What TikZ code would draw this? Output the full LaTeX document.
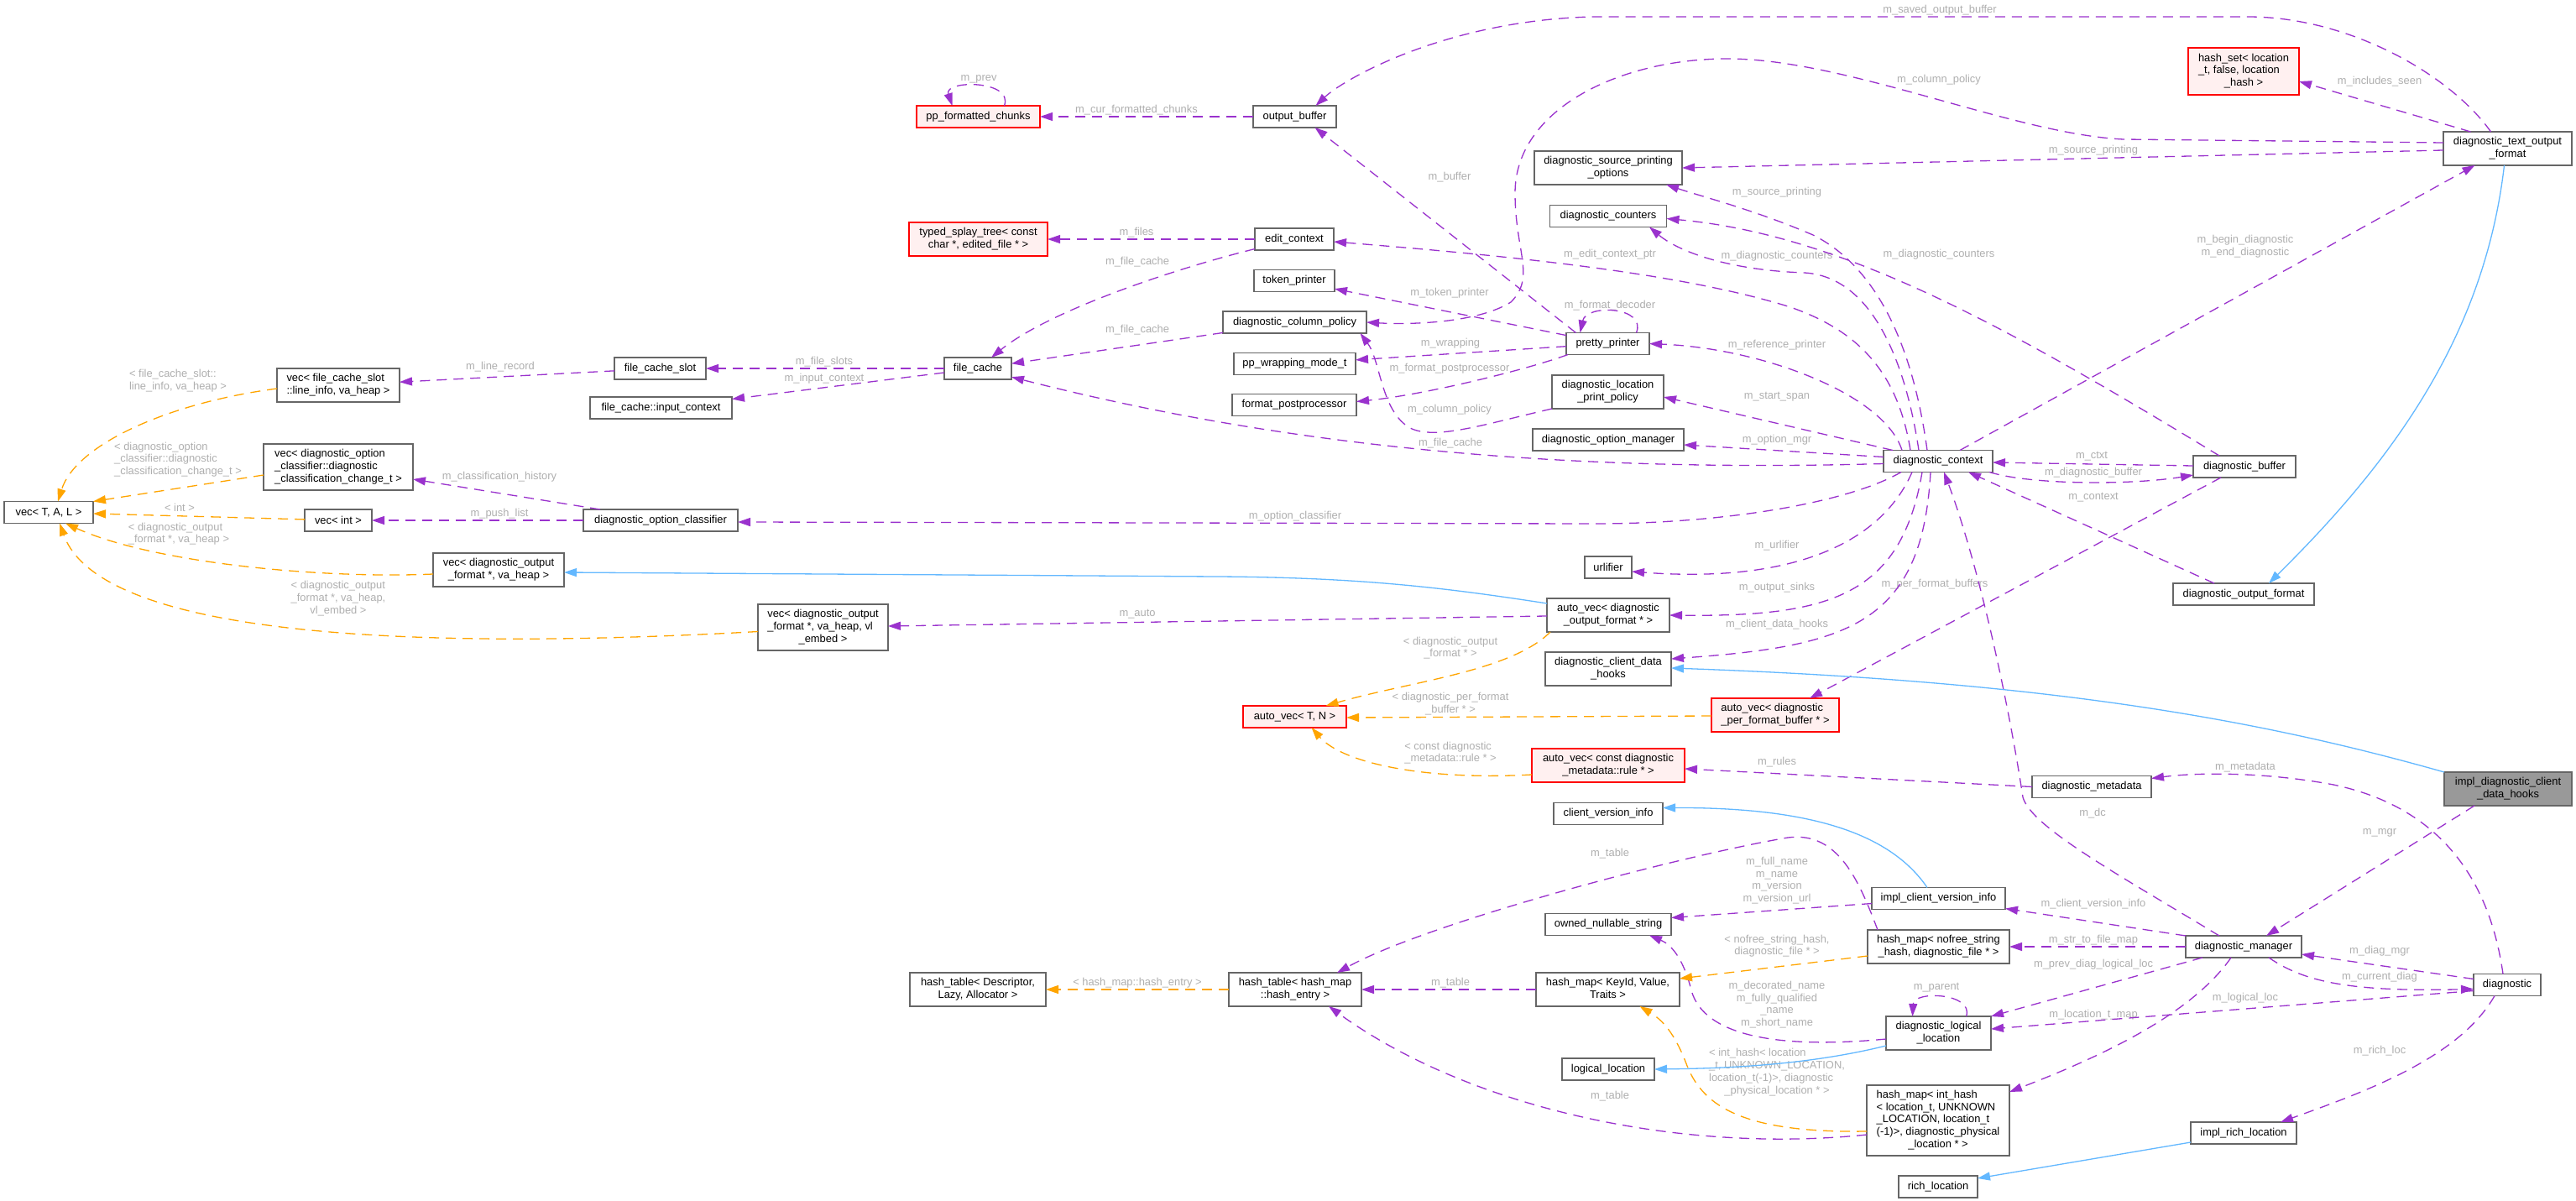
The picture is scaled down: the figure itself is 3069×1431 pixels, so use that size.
\documentclass[tikz,border=0pt]{standalone}
\usepackage{fontspec}
\setmainfont{Liberation Sans}
\usetikzlibrary{arrows.meta,calc}
\definecolor{epurple}{HTML}{9A32CD}
\definecolor{eorange}{HTML}{FFA500}
\definecolor{eblue}{HTML}{63B8FF}
\definecolor{lblgray}{HTML}{AFAFAF}
\definecolor{nborder}{HTML}{666666}
\definecolor{rborder}{HTML}{FF0000}
\definecolor{rfill}{HTML}{FFF0F0}
\definecolor{gfill}{HTML}{999999}
\newcommand{\ml}[2]{\begin{tabular}{@{}l@{}}#1\\\multicolumn{1}{@{}c@{}}{#2}\end{tabular}}
\begin{document}
\begin{tikzpicture}[x=1pt,y=-1pt,
  every node/.style={font=\fontsize{12.9}{14.7}\selectfont, inner sep=0pt, outer sep=0pt},
  cls/.style 2 args={draw=nborder, line width=1.25pt, fill=white, minimum width=#1, minimum height=#2},
  rcls/.style 2 args={draw=rborder, line width=1.25pt, fill=rfill, minimum width=#1, minimum height=#2},
  gcls/.style 2 args={draw=nborder, line width=1.25pt, fill=gfill, minimum width=#1, minimum height=#2},
  lbl/.style={text=lblgray},
  pe/.style={draw=epurple, line width=1.3pt, dash pattern=on 12pt off 8pt, -{Triangle[length=15pt,width=10pt]}},
  oe/.style={draw=eorange, line width=1.3pt, dash pattern=on 12pt off 8pt, -{Triangle[length=15pt,width=10pt]}},
  be/.style={draw=eblue, line width=1.3pt, -{Triangle[length=15pt,width=10pt]}}]
\fill[white] (0,0) rectangle (3069,1431);
\path[use as bounding box] (0,0) rectangle (3069,1431);

% ---------- nodes ----------
\node[cls={146}{40}] (vecfcs) at (403,459) {\ml{vec< file\_cache\_slot}{::line\_info, va\_heap >}};
\node[cls={109}{26}] (fcslot) at (786.5,439) {file\_cache\_slot};
\node[cls={169}{26}] (fcic) at (787.5,486) {file\_cache::input\_context};
\node[rcls={147}{26}] (ppfc) at (1165.5,139) {pp\_formatted\_chunks};
\node[rcls={165}{40}] (tst) at (1165.5,285) {\ml{typed\_splay\_tree< const}{char *, edited\_file * >}};
\node[cls={80}{26}] (filecache) at (1165,439) {file\_cache};
\node[cls={99}{26}] (outbuf) at (1542.5,139) {output\_buffer};
\node[cls={94}{26}] (editctx) at (1542,285) {edit\_context};
\node[cls={96}{26}] (tokprinter) at (1542,334.5) {token\_printer};
\node[cls={171}{26}] (dcp) at (1542.5,384) {diagnostic\_column\_policy};
\node[cls={145}{26}] (ppwm) at (1542.5,433.5) {pp\_wrapping\_mode\_t};
\node[cls={148}{26}] (fpp) at (1542,482.5) {format\_postprocessor};
\node[cls={176}{40}] (dspo) at (1916,200) {\ml{diagnostic\_source\_printing}{\_options}};
\node[cls={139}{26}] (dcount) at (1916,257.5) {diagnostic\_counters};
\node[cls={99}{26}] (pprinter) at (1915.5,409.5) {pretty\_printer};
\node[cls={133}{40}] (dlpp) at (1915.5,467) {\ml{diagnostic\_location}{\_print\_policy}};
\node[cls={180}{26}] (dom) at (1916,524) {diagnostic\_option\_manager};
\node[cls={56}{26}] (urlifier) at (1916,676) {urlifier};
\node[cls={146}{40}] (avdof) at (1916,733) {\ml{auto\_vec< diagnostic}{\_output\_format * >}};
\node[cls={150}{40}] (dcdh) at (1916,797) {\ml{diagnostic\_client\_data}{\_hooks}};
\node[rcls={182}{40}] (avrule) at (1916,912) {\ml{auto\_vec< const diagnostic}{\_metadata::rule * >}};
\node[cls={130}{26}] (cvi) at (1916,969.5) {client\_version\_info};
\node[cls={150}{26}] (ons) at (1916,1101.5) {owned\_nullable\_string};
\node[cls={171}{40}] (hmkey) at (1915.5,1179) {\ml{hash\_map< KeyId, Value,}{Traits >}};
\node[cls={110}{26}] (logloc) at (1916,1274) {logical\_location};
\node[rcls={123}{26}] (avTN) at (1542.5,854) {auto\_vec< T, N >};
\node[cls={158}{40}] (hthe) at (1543,1179) {\ml{hash\_table< hash\_map}{::hash\_entry >}};
\node[cls={162}{40}] (htdesc) at (1165,1179) {\ml{hash\_table< Descriptor,}{Lazy, Allocator >}};
\node[cls={155}{55}] (vecdofvl) at (980.5,747.5) {\ml{vec< diagnostic\_output\\\_format *, va\_heap, vl}{\_embed >}};
\node[cls={178}{55}] (dochange) at (403,556.5) {\ml{vec< diagnostic\_option\\\_classifier::diagnostic}{\_classification\_change\_t >}};
\node[cls={80}{26}] (vecint) at (403,620) {vec< int >};
\node[cls={106}{26}] (vecTAL) at (58,610.5) {vec< T, A, L >};
\node[cls={156}{40}] (vecdofvh) at (594,679) {\ml{vec< diagnostic\_output}{\_format *, va\_heap >}};
\node[cls={184}{26}] (doc) at (787,620) {diagnostic\_option\_classifier};
\node[cls={130}{26}] (dc) at (2309,549.5) {diagnostic\_context};
\node[cls={159}{26}] (icvi) at (2309.5,1070.5) {impl\_client\_version\_info};
\node[cls={169}{40}] (hmnofree) at (2309.5,1128) {\ml{hash\_map< nofree\_string}{\_hash, diagnostic\_file * >}};
\node[cls={125}{40}] (dll) at (2309.5,1231) {\ml{diagnostic\_logical}{\_location}};
\node[cls={170}{84}] (hmint) at (2309,1335) {\ml{hash\_map< int\_hash\\< location\_t, UNKNOWN\\\_LOCATION, location\_t\\(-1)>, diagnostic\_physical}{\_location * >}};
\node[cls={94}{26}] (richloc) at (2309,1414) {rich\_location};
\node[cls={142}{26}] (dmeta) at (2492,937.5) {diagnostic\_metadata};
\node[rcls={152}{40}] (avdpfb) at (2115,852) {\ml{auto\_vec< diagnostic}{\_per\_format\_buffer * >}};
\node[cls={122}{26}] (dbuf) at (2674,556) {diagnostic\_buffer};
\node[cls={168}{26}] (dof) at (2673,708) {diagnostic\_output\_format};
\node[cls={138}{26}] (dmgr) at (2673,1128) {diagnostic\_manager};
\node[cls={126}{26}] (irl) at (2673,1350) {impl\_rich\_location};
\node[rcls={132}{56}] (hashset) at (2673,85) {\ml{hash\_set< location\\\_t, false, location}{\_hash >}};
\node[cls={153}{40}] (dtof) at (2987.5,177) {\ml{diagnostic\_text\_output}{\_format}};
\node[gcls={152}{40}] (idcdh) at (2988,940) {\ml{impl\_diagnostic\_client}{\_data\_hooks}};
\node[cls={80}{26}] (diag) at (2987,1173.5) {diagnostic};

% ---------- edge labels ----------
\node[lbl] (l1) at (1166,94) {m\_prev};
\node[lbl] (l2) at (1354,131) {m\_cur\_formatted\_chunks};
\node[lbl] (l3) at (1354,277) {m\_files};
\node[lbl] (l4) at (1355,312) {m\_file\_cache};
\node[lbl] (l5) at (1355,393) {m\_file\_cache};
\node[lbl] (l6) at (982,431) {m\_file\_slots};
\node[lbl] (l7) at (982,451) {m\_input\_context};
\node[lbl] (l8) at (596,437) {m\_line\_record};
\node[lbl] (l9) at (1728,528) {m\_file\_cache};
\node[lbl] (l10) at (2311,12) {m\_saved\_output\_buffer};
\node[lbl] (l11) at (1727,211) {m\_buffer};
\node[lbl] (l12) at (2310,95) {m\_column\_policy};
\node[lbl] (l13) at (2494,179) {m\_source\_printing};
\node[lbl] (l14) at (2835,97) {m\_includes\_seen};
\node[lbl,align=center] (l15) at (2675,294) {m\_begin\_diagnostic\\m\_end\_diagnostic};
\node[lbl] (l16) at (2117,229) {m\_source\_printing};
\node[lbl] (l17) at (2117,305) {m\_diagnostic\_counters};
\node[lbl] (l18) at (2310,303) {m\_diagnostic\_counters};
\node[lbl] (l19) at (1918,303) {m\_edit\_context\_ptr};
\node[lbl] (l20) at (1727,349) {m\_token\_printer};
\node[lbl] (l21) at (1918,364) {m\_format\_decoder};
\node[lbl] (l22) at (1728,409) {m\_wrapping};
\node[lbl] (l23) at (1727,439) {m\_format\_postprocessor};
\node[lbl] (l24) at (2117,411) {m\_reference\_printer};
\node[lbl] (l25) at (2117,473) {m\_start\_span};
\node[lbl] (l26) at (1727,488) {m\_column\_policy};
\node[lbl] (l27) at (2117,524) {m\_option\_mgr};
\node[lbl] (l28) at (1543,615) {m\_option\_classifier};
\node[lbl] (l29) at (595,568) {m\_classification\_history};
\node[lbl] (l30) at (595,612) {m\_push\_list};
\node[lbl] (l31) at (2117,650) {m\_urlifier};
\node[lbl] (l32) at (2117,700) {m\_output\_sinks};
\node[lbl] (l33) at (2117,744) {m\_client\_data\_hooks};
\node[lbl] (l34) at (1355,732) {m\_auto};
\node[lbl] (l35) at (2305,696) {m\_per\_format\_buffers};
\node[lbl] (l36) at (2492,544) {m\_ctxt};
\node[lbl] (l37) at (2494,563) {m\_diagnostic\_buffer};
\node[lbl] (l38) at (2494,593) {m\_context};
\node[lbl] (l39) at (2117,908) {m\_rules};
\node[lbl] (l40) at (2493,969) {m\_dc};
\node[lbl] (l41) at (2675,914) {m\_metadata};
\node[lbl] (l42) at (2835,992) {m\_mgr};
\node[lbl] (l43) at (2494,1077) {m\_client\_version\_info};
\node[lbl] (l44) at (2494,1120) {m\_str\_to\_file\_map};
\node[lbl] (l45) at (2494,1149) {m\_prev\_diag\_logical\_loc};
\node[lbl] (l46) at (2494,1209) {m\_location\_t\_map};
\node[lbl] (l47) at (2835,1133) {m\_diag\_mgr};
\node[lbl] (l48) at (2835,1164) {m\_current\_diag};
\node[lbl] (l49) at (2675,1189) {m\_logical\_loc};
\node[lbl] (l50) at (2835,1252) {m\_rich\_loc};
\node[lbl] (l51) at (2307,1177) {m\_parent};
\node[lbl,align=center] (l52) at (2117,1049) {m\_full\_name\\m\_name\\m\_version\\m\_version\_url};
\node[lbl,align=center] (l53) at (2117,1197) {m\_decorated\_name\\m\_fully\_qualified\\\_name\\m\_short\_name};
\node[lbl] (l54) at (1918,1017) {m\_table};
\node[lbl] (l55) at (1728,1171) {m\_table};
\node[lbl] (l56) at (1918,1306) {m\_table};
\node[lbl] (o1) at (212,454) {\ml{< file\_cache\_slot::}{line\_info, va\_heap >}};
\node[lbl] (o2) at (212,548) {\ml{< diagnostic\_option\\\_classifier::diagnostic}{\_classification\_change\_t >}};
\node[lbl] (o3) at (214,605) {< int >};
\node[lbl] (o4) at (213,636.5) {\ml{< diagnostic\_output}{\_format *, va\_heap >}};
\node[lbl] (o5) at (403,713.5) {\ml{< diagnostic\_output\\\_format *, va\_heap,}{vl\_embed >}};
\node[lbl] (o6) at (1728,772.5) {\ml{< diagnostic\_output}{\_format * >}};
\node[lbl] (o7) at (1728,839) {\ml{< diagnostic\_per\_format}{\_buffer * >}};
\node[lbl] (o8) at (1728,897.5) {\ml{< const diagnostic}{\_metadata::rule * >}};
\node[lbl] (o9) at (1355,1171) {< hash\_map::hash\_entry >};
\node[lbl] (o10) at (2117,1127.5) {\ml{< nofree\_string\_hash,}{diagnostic\_file * >}};
\node[lbl] (o11) at (2117,1278) {\ml{< int\_hash< location\\\_t, UNKNOWN\_LOCATION,\\location\_t(-1)>, diagnostic}{\_physical\_location * >}};

% ---------- purple (usage) edges ----------
\draw[pe] ($(ppfc.north)+(31,0)$) .. controls (1208,95) and (1124,95) .. ($(ppfc.north)+(-31,0)$);
\draw[pe] (outbuf) -- (ppfc);
\draw[pe] (editctx) -- (tst);
\draw[pe] (editctx) .. controls (1400,320) and (1250,370) .. (filecache);
\draw[pe] (dcp) -- (filecache);
\draw[pe] (filecache) -- (fcslot);
\draw[pe] (filecache) -- (fcic);
\draw[pe] (fcslot) -- (vecfcs);
\draw[pe] ($(dc.west)+(0,3)$) .. controls (1900,562) and (1560,540) .. (filecache);
\draw[pe] ($(dtof.north)+(-20,0)$) .. controls (2920,90) and (2800,20) .. (2678,20) -- (1896,20) .. controls (1720,25) and (1600,95) .. ($(outbuf.north)+(25,0)$);
\draw[pe] ($(pprinter.north)+(-38,0)$) -- ($(outbuf.south)+(24,0)$);
\draw[pe] ($(dtof.west)+(0,-7)$) -- (2530,166) .. controls (2400,160) and (2200,70) .. (2058,70) .. controls (1930,70) and (1805,130) .. (1805,230) .. controls (1805,300) and (1830,330) .. (1800,360) .. controls (1760,385) and (1680,387) .. (dcp.east);
\draw[pe] ($(dtof.west)+(0,2)$) -- (dspo.east);
\draw[pe] ($(dtof.north)+(-44,0)$) -- ($(hashset.east)+(0,12)$);
\draw[pe] ($(dc.north)+(26,0)$) -- ($(dtof.south)+(-39,0)$);
\draw[pe] ($(dc.north)+(-13,0)$) .. controls (2280,420) and (2240,320) .. (2160,280) .. controls (2090,250) and (2030,235) .. ($(dspo.south east)+(-19,0)$);
\draw[pe] ($(dc.north)+(-23,0)$) .. controls (2270,430) and (2230,330) .. (2150,325) .. controls (2060,322) and (2000,300) .. ($(dcount.south)+(49,0)$);
\draw[pe] ($(dbuf.north)+(-30,0)$) .. controls (2400,395) and (2200,280) .. ($(dcount.east)+(0,3)$);
\draw[pe] ($(dc.north)+(-33,0)$) .. controls (2262,450) and (2220,395) .. (2130,365) .. controls (2000,325) and (1800,305) .. ($(editctx.east)+(0,3)$);
\draw[pe] (pprinter) -- (tokprinter);
\draw[pe] ($(pprinter.north)+(34,0)$) .. controls (1962,365) and (1890,362) .. ($(pprinter.north)+(-33,0)$);
\draw[pe] (pprinter) -- (ppwm);
\draw[pe] ($(pprinter.south west)+(2,0)$) .. controls (1820,440) and (1700,470) .. ($(fpp.east)+(0,-4)$);
\draw[pe] ($(dc.north)+(-43,0)$) .. controls (2245,470) and (2100,415) .. (pprinter.east);
\draw[pe] ($(dc.north)+(-54,0)$) -- ($(dlpp.east)+(0,6)$);
\draw[pe] (dlpp.south west) .. controls (1770,505) and (1710,525) .. (1680,510) .. controls (1645,490) and (1645,430) .. ($(dcp.south)+(78,0)$);
\draw[pe] ($(dc.west)+(0,-5)$) -- ($(dom.east)+(0,6)$);
\draw[pe] ($(dc.south)+(-44,0)$) .. controls (2200,600) and (2050,624) .. (1900,624) -- ($(doc.east)+(0,2)$);
\draw[pe] ($(doc.north west)+(20,0)$) -- ($(dochange.east)+(0,14.5)$);
\draw[pe] (doc) -- (vecint);
\draw[pe] ($(dc.south)+(-31,0)$) .. controls (2240,650) and (2130,695) .. ($(urlifier.east)+(0,5)$);
\draw[pe] ($(dc.south)+(-19,0)$) .. controls (2265,710) and (2180,735) .. (avdof.east);
\draw[pe] ($(dc.south)+(-9,0)$) .. controls (2290,745) and (2200,770) .. ($(dcdh.east)+(0,-12)$);
\draw[pe] ($(avdof.west)+(0,1)$) -- ($(vecdofvl.east)+(0,-1.5)$);
\draw[pe] ($(dbuf.south)+(-28,0)$) -- ($(avdpfb.north)+(41,0)$);
\draw[pe] ($(dbuf.west)+(0,-1)$) -- ($(dc.east)+(0,1.5)$);
\draw[pe] ($(dc.south east)+(-4,0)$) .. controls (2420,578) and (2540,578) .. ($(dbuf.west)+(0,10)$);
\draw[pe] ($(dof.north)+(-35,0)$) -- ($(dc.south)+(36,0)$);
\draw[pe] (dmeta.west) -- ($(avrule.east)+(0,4)$);
\draw[pe] ($(dmgr.north)+(-29,0)$) .. controls (2520,1040) and (2420,985) .. (2410,950) .. controls (2395,850) and (2360,680) .. ($(dc.south)+(7,0)$);
\draw[pe] ($(diag.north)+(-5,0)$) .. controls (2965,1040) and (2900,960) .. (2780,935) .. controls (2700,920) and (2620,920) .. ($(dmeta.east)+(0,-10)$);
\draw[pe] ($(idcdh.south)+(-40,0)$) -- ($(dmgr.north)+(27,0)$);
\draw[pe] (dmgr.north west) -- ($(icvi.south east)+(0,-1)$);
\draw[pe] (dmgr.west) -- (hmnofree.east);
\draw[pe] ($(dmgr.south west)+(20,0)$) -- (dll.north east);
\draw[pe] ($(dmgr.south)+(-15,0)$) .. controls (2610,1210) and (2500,1260) .. ($(hmint.north east)+(0,8)$);
\draw[pe] ($(diag.west)+(0,-7)$) -- ($(dmgr.east)+(0,9)$);
\draw[pe] ($(dmgr.south)+(30,0)$) .. controls (2745,1170) and (2800,1182) .. ($(diag.west)+(0,5)$);
\draw[pe] ($(diag.west)+(0,7)$) -- ($(dll.east)+(0,-5)$);
\draw[pe] ($(diag.south)+(-15,0)$) .. controls (2930,1260) and (2820,1300) .. ($(irl.north)+(44,0)$);
\draw[pe] ($(dll.north)+(33,0)$) .. controls (2352,1183) and (2280,1180) .. ($(dll.north)+(-31,0)$);
\draw[pe] ($(icvi.west)+(0,6)$) -- ($(ons.east)+(0,-8)$);
\draw[pe] ($(dll.west)+(0,7)$) .. controls (2120,1250) and (2030,1235) .. (2015,1180) .. controls (2005,1140) and (1990,1125) .. ($(ons.south)+(49,0)$);
\draw[pe] ($(hmnofree.north west)+(12,0)$) .. controls (2215,1050) and (2190,990) .. (2130,998) .. controls (2000,1020) and (1700,1100) .. ($(hthe.north)+(50,0)$);
\draw[pe] (hmkey) -- (hthe);
\draw[pe] ($(hmint.west)+(0,17)$) .. controls (2000,1375) and (1750,1320) .. ($(hthe.south)+(40,0)$);

% ---------- orange (template) edges ----------
\draw[oe] ($(vecfcs.west)+(0,4)$) .. controls (200,480) and (90,530) .. ($(vecTAL.north)+(11,0)$);
\draw[oe] ($(dochange.west)+(0,9.5)$) -- (vecTAL.north east);
\draw[oe] (vecint) -- (vecTAL);
\draw[oe] ($(vecdofvh.west)+(0,5)$) .. controls (380,690) and (180,670) .. ($(vecTAL.south)+(20,0)$);
\draw[oe] ($(vecdofvl.west)+(0,5)$) .. controls (500,775) and (120,760) .. ($(vecTAL.south)+(13,0)$);
\draw[oe] ($(avdof.south west)+(4,0)$) .. controls (1800,800) and (1680,812) .. ($(avTN.north)+(37,0)$);
\draw[oe] ($(avdpfb.west)+(0,1)$) -- ($(avTN.east)+(0,1)$);
\draw[oe] ($(avrule.west)+(0,11)$) .. controls (1700,930) and (1600,910) .. ($(avTN.south)+(20,0)$);
\draw[oe] (hthe) -- (htdesc);
\draw[oe] ($(hmnofree.west)+(0,11)$) -- ($(hmkey.north east)+(0,7)$);
\draw[oe] ($(hmint.west)+(0,13)$) .. controls (2080,1350) and (2030,1320) .. (2010,1270) .. controls (1995,1230) and (1980,1215) .. ($(hmkey.south)+(38,0)$);

% ---------- blue (inheritance) edges ----------
\draw[be] ($(dtof.south)+(-4,0)$) .. controls (2960,400) and (2850,550) .. ($(dof.north)+(30,0)$);
\draw[be] ($(avdof.north west)+(0,6)$) .. controls (1720,700) and (1620,688) .. (1450,687) -- ($(vecdofvh.east)+(0,3)$);
\draw[be] (idcdh.north west) .. controls (2700,860) and (2450,812) .. ($(dcdh.east)+(0,-1)$);
\draw[be] ($(icvi.north west)+(66,0)$) .. controls (2250,990) and (2150,962) .. ($(cvi.east)+(0,-7)$);
\draw[be] ($(dll.west)+(0,15)$) .. controls (2150,1270) and (2050,1273) .. (logloc.east);
\draw[be] ($(irl.west)+(0,11)$) -- ($(richloc.east)+(0,-10)$);
\end{tikzpicture}
\end{document}
